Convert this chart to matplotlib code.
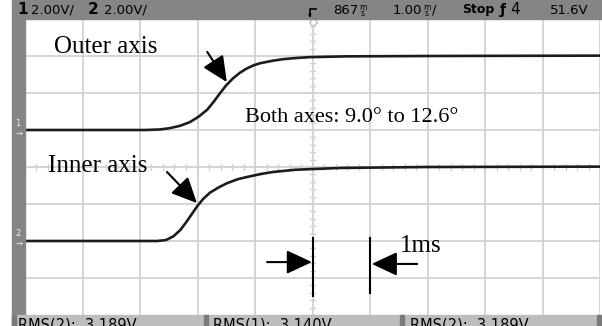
import matplotlib.pyplot as plt
from matplotlib.patches import Rectangle

# channel traces: time in ms (1 ms/div), level in V (2 V/div)
t_outer = [-5.0, -2.9, -2.65, -2.48, -2.3, -2.13, -1.98, -1.83, -1.72, -1.61, -1.5,
           -1.38, -1.26, -1.14, -1.02, -0.91, -0.7, -0.51, -0.25, -0.04, 0.6, 2.0, 5.0]
v_outer = [2.0, 2.0, 2.03, 2.1, 2.23, 2.43, 2.72, 3.1, 3.52, 3.98, 4.42,
           4.8, 5.1, 5.33, 5.5, 5.61, 5.74, 5.83, 5.9, 5.94, 5.98, 6.0, 6.02]

t_inner = [-5.0, -2.7, -2.55, -2.42, -2.3, -2.2, -2.1, -2.0, -1.9, -1.78, -1.63,
           -1.49, -1.3, -1.14, -0.9, -0.69, -0.3, 0.0, 0.5, 2.0, 5.0]
v_inner = [-4.0, -4.0, -3.95, -3.75, -3.41, -3.0, -2.55, -2.1, -1.72, -1.38, -1.1,
           -0.88, -0.66, -0.54, -0.38, -0.27, -0.15, -0.11, -0.05, 0.0, 0.02]

header_left = ["1", "2.00V/", "2", "2.00V/"]
readouts = ["RMS(2):  3.189V", "RMS(1):  3.140V", "RMS(2):  3.189V"]

W, H = 602, 326
fig = plt.figure(figsize=(W / 100, H / 100), dpi=100)


def fx(px):
    return px / W


def fy(py):
    return 1 - py / H


# frame bars around the screen
bar = '#858585'
fig.patches.append(Rectangle((fx(12), fy(19)), fx(590), 19 / H, transform=fig.transFigure,
                             color=bar, zorder=0))
fig.patches.append(Rectangle((fx(12), 0), fx(13), 1 - 19 / H, transform=fig.transFigure,
                             color=bar, zorder=0))
fig.patches.append(Rectangle((fx(12), 0), fx(590), 11 / H, transform=fig.transFigure,
                             color='#bdbdbd', zorder=0))
for sx in [12, 204, 400, 597]:
    fig.patches.append(Rectangle((fx(sx), 0), fx(4), 11 / H, transform=fig.transFigure,
                                 color='#7a7a7a', zorder=1))

ax = fig.add_axes([fx(25), fy(315), fx(575), 296 / H])
ax.set_xlim(-5, 5)
ax.set_ylim(-8, 8)
ax.axis('off')

# graticule
grid = '#d2d2d2'
for x in range(-4, 6):
    ax.axvline(x, color=grid, lw=1.3, zorder=1)
for y in range(-6, 8, 2):
    ax.axhline(y, color=grid, lw=1.3, zorder=1)
for i in range(-25, 26):
    ax.plot([i * 0.2, i * 0.2], [-0.15, 0.15], color=grid, lw=1.0, zorder=1)
for i in range(-20, 21):
    ax.plot([-0.05, 0.05], [i * 0.4, i * 0.4], color=grid, lw=1.0, zorder=1)
ax.axvline(-5, color='#c8c8c8', lw=1.2, ls=(0, (3, 2)), zorder=1)
ax.plot(0, 7.85, marker='D', ms=4, mfc='white', mec='#c0c0c0', clip_on=False, zorder=2)

# traces
ax.plot(t_outer, v_outer, color='#1c1c1c', lw=1.9, zorder=3)
ax.plot(t_inner, v_inner, color='#1c1c1c', lw=1.9, zorder=3)

serif = 'Liberation Serif'
ax.text(-4.5, 6.16, "Outer axis", family=serif, fontsize=18, va='baseline')
ax.text(-4.6, -0.27, "Inner axis", family=serif, fontsize=18, va='baseline')
ax.text(-1.17, 2.43, "Both axes: 9.0\u00b0 to 12.6\u00b0", family=serif, fontsize=16,
        va='baseline')
ax.text(1.52, -4.59, "1ms", family=serif, fontsize=18, va='baseline')

arrow = dict(arrowstyle='-|>,head_length=0.6,head_width=0.28', color='black',
             lw=1.5, mutation_scale=26, shrinkA=0, shrinkB=0)
ax.annotate('', xy=(-1.49, 4.59), xytext=(-1.83, 6.22), arrowprops=arrow)
ax.annotate('', xy=(-2.01, -1.95), xytext=(-2.53, -0.27), arrowprops=arrow)
ax.annotate('', xy=(-0.01, -5.14), xytext=(-0.79, -5.14), arrowprops=arrow)
ax.annotate('', xy=(1.03, -5.24), xytext=(1.82, -5.24), arrowprops=arrow)
ax.plot([0, 0], [-3.84, -6.97], color='black', lw=1.5, zorder=4)
ax.plot([1.0, 1.0], [-3.84, -6.81], color='black', lw=1.5, zorder=4)

# channel markers on the left bar
for label, py in [("1", 131), ("2", 241)]:
    fig.text(fx(15), fy(py - 7), label, fontsize=6, color='#f0f0f0', ha='left', va='center')
    fig.text(fx(16), fy(py + 2), "\u2192", fontsize=6, color='#f0f0f0', ha='left', va='center')

# header readouts
hy = fy(10)
fig.text(fx(17), hy, header_left[0], fontsize=11, fontweight='bold', va='center')
fig.text(fx(31), hy, header_left[1], fontsize=9.5, va='center')
fig.text(fx(88), hy, header_left[2], fontsize=11, fontweight='bold', va='center')
fig.text(fx(104), hy, header_left[3], fontsize=9.5, va='center')

fig.lines.append(plt.Line2D([fx(310), fx(310), fx(316)], [fy(16), fy(9), fy(9)],
                            transform=fig.transFigure, color='black', lw=1.2))
fig.text(fx(310), fy(15), "\u25bc", fontsize=3.5, ha='center', va='center')


def stacked_ms(px, suffix=""):
    fig.text(fx(px), fy(7), "m", fontsize=5.5, va='center')
    fig.text(fx(px + 1.5), fy(13), "s", fontsize=5.5, va='center')
    if suffix:
        fig.text(fx(px + 9), hy, suffix, fontsize=9.5, va='center')


fig.text(fx(333), hy, "867", fontsize=9.5, va='center')
stacked_ms(359)
fig.text(fx(393), hy, "1.00", fontsize=9.5, va='center')
stacked_ms(423, "/")
fig.text(fx(462), hy, "Stop", fontsize=9, fontweight='bold', va='center')
fig.text(fx(500), hy, "\u0192", fontsize=10, fontweight='bold', va='center')
fig.text(fx(510), hy, "4", fontsize=11, va='center')
fig.text(fx(550), hy, "51.6V", fontsize=9.5, va='center')

# bottom measurement readouts
for px, s in zip([18, 213, 410], readouts):
    fig.text(fx(px), fy(317.5), s, fontsize=10.5, va='top')

fig.savefig('out.png', dpi=100)
